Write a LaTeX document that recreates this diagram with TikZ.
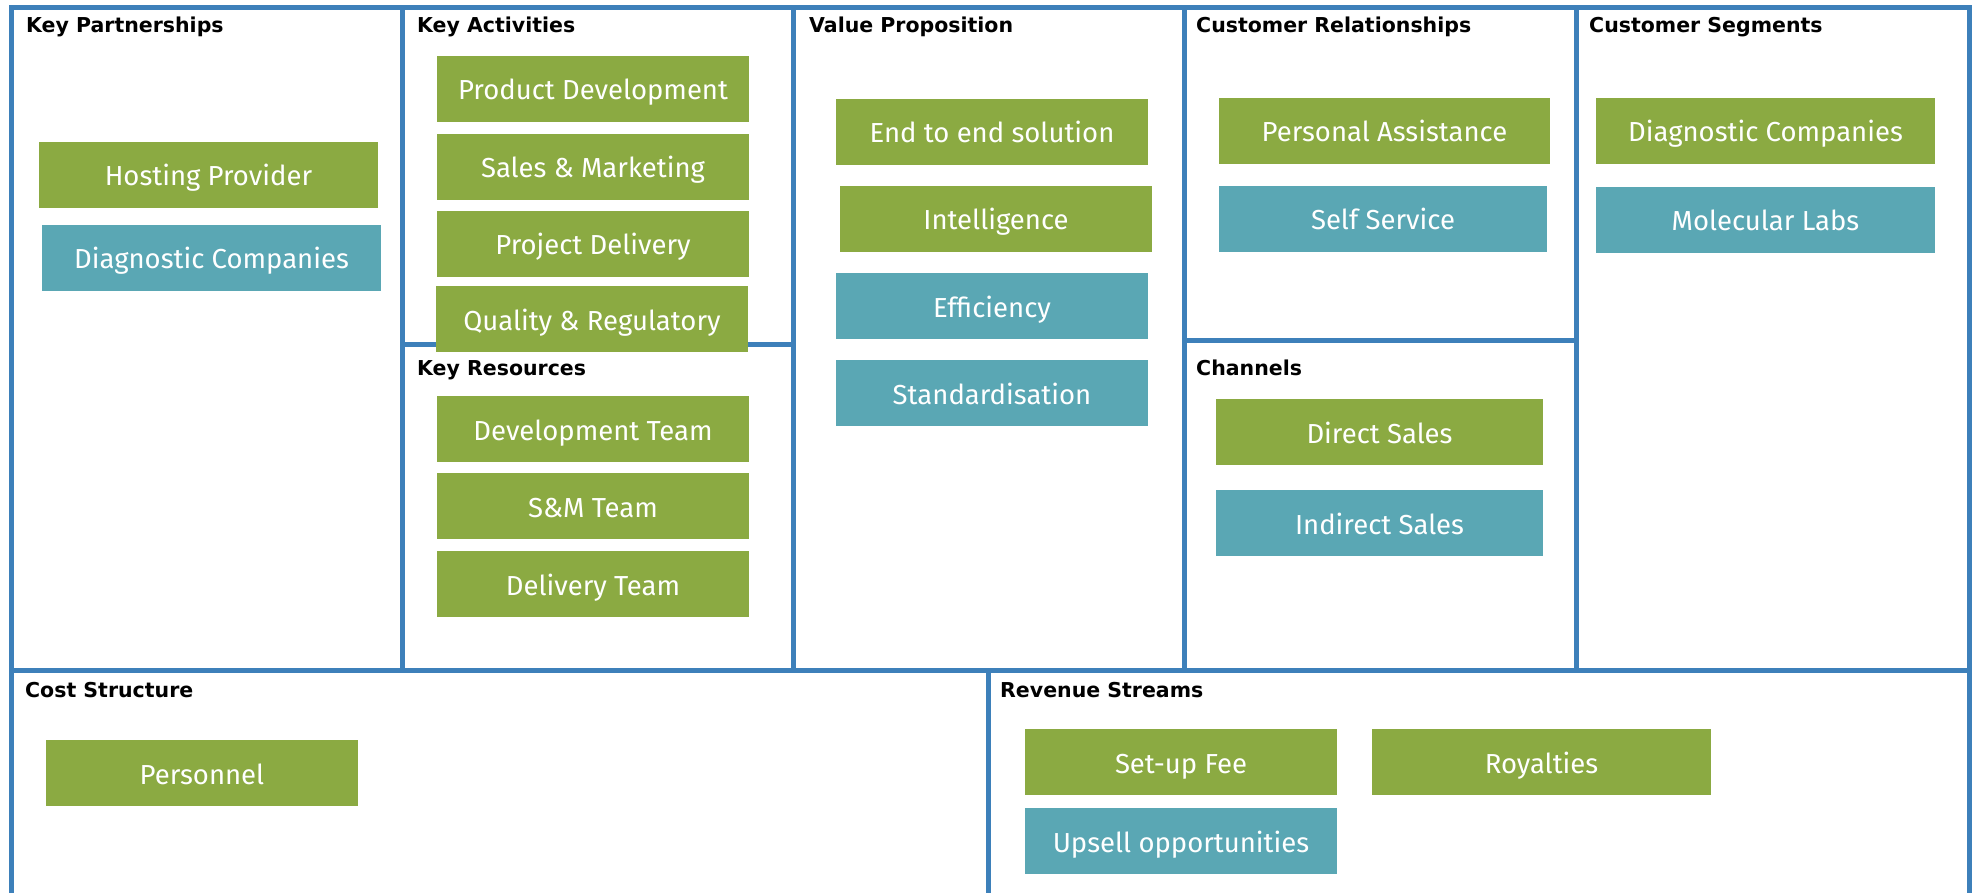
\documentclass[tikz,border=0pt]{standalone}
\usepackage{fontspec}
\newfontfamily\titlefont{DejaVu Sans}
\newfontfamily\boxfont{Fira Sans}
\definecolor{bmcgreen}{HTML}{8BAA42}
\definecolor{bmcteal}{HTML}{5AA7B4}
\definecolor{bmcblue}{HTML}{3D80BA}
\tikzset{
  frame/.style={draw=bmcblue, line width=5pt},
  title/.style={anchor=base west, inner sep=0pt, font=\titlefont\bfseries\fontsize{20.5pt}{24pt}\selectfont},
  card/.style={inner sep=0pt, text=white, text height=22pt, text depth=0pt,
    font=\boxfont\fontsize{27.5pt}{31pt}\selectfont, minimum height=66pt},
  gcard/.style={card, fill=bmcgreen},
  tcard/.style={card, fill=bmcteal},
}
\begin{document}
\begin{tikzpicture}[x=1pt, y=-1pt]
\useasboundingbox (0,0) rectangle (1975,893);
% frame
\coordinate (tl) at (11.5,8);
\coordinate (tr) at (1969.5,8);
\coordinate (bl) at (11.5,893);
\coordinate (br) at (1969.5,893);
\draw[frame] (bl) -- (tl) -- (tr) -- (br);
\draw[frame] (11.5,670) -- (1969.5,670);
\draw[frame] (402,8) -- (402,670);
\draw[frame] (793,8) -- (793,670);
\draw[frame] (1184,8) -- (1184,670);
\draw[frame] (1576,8) -- (1576,670);
\draw[frame] (402,344) -- (793,344);
\draw[frame] (1184,340) -- (1576,340);
\draw[frame] (988,670) -- (988,893);
% titles
\node[title] (tkp) at (26,33) {Key Partnerships};
\node[title] (tka) at (417,33) {Key Activities};
\node[title] (tvp) at (809,33) {Value Proposition};
\node[title] (tcr) at (1196,33) {Customer Relationships};
\node[title] (tcs) at (1589,33) {Customer Segments};
\node[title] (tkr) at (417,375) {Key Resources};
\node[title] (tch) at (1196,375) {Channels};
\node[title] (tco) at (25,697) {Cost Structure};
\node[title] (trs) at (1000,697) {Revenue Streams};
% cards
\node[gcard, minimum width=339pt] (hp) at (208.5,175) {Hosting Provider};
\node[tcard, minimum width=339pt] (dc1) at (211.5,258) {Diagnostic Companies};
\node[gcard, minimum width=312pt] (pd) at (593,89) {Product Development};
\node[gcard, minimum width=312pt] (sm) at (593,167) {Sales \& Marketing};
\node[gcard, minimum width=312pt] (pjd) at (593,244) {Project Delivery};
\node[gcard, minimum width=312pt] (qr) at (592,319) {Quality \& Regulatory};
\node[gcard, minimum width=312pt] (dt) at (593,429) {Development Team};
\node[gcard, minimum width=312pt] (smt) at (593,506) {S\&M Team};
\node[gcard, minimum width=312pt] (dlt) at (593,584) {Delivery Team};
\node[gcard, minimum width=312pt] (ee) at (992,132) {End to end solution};
\node[gcard, minimum width=312pt] (in) at (996,219) {Intelligence};
\node[tcard, minimum width=312pt] (ef) at (992,306) {Efficiency};
\node[tcard, minimum width=312pt] (st) at (992,393) {Standardisation};
\node[gcard, minimum width=331pt] (pa) at (1384.5,131) {Personal Assistance};
\node[tcard, minimum width=328pt] (ss) at (1383,219) {Self Service};
\node[gcard, minimum width=327pt] (ds) at (1379.5,432) {Direct Sales};
\node[tcard, minimum width=327pt] (is) at (1379.5,523) {Indirect Sales};
\node[gcard, minimum width=339pt] (dc2) at (1765.5,131) {Diagnostic Companies};
\node[tcard, minimum width=339pt] (ml) at (1765.5,220) {Molecular Labs};
\node[gcard, minimum width=312pt] (pe) at (202,773) {Personnel};
\node[gcard, minimum width=312pt] (su) at (1181,762) {Set-up Fee};
\node[gcard, minimum width=339pt] (ro) at (1541.5,762) {Royalties};
\node[tcard, minimum width=312pt] (up) at (1181,841) {Upsell opportunities};
\end{tikzpicture}
\end{document}
